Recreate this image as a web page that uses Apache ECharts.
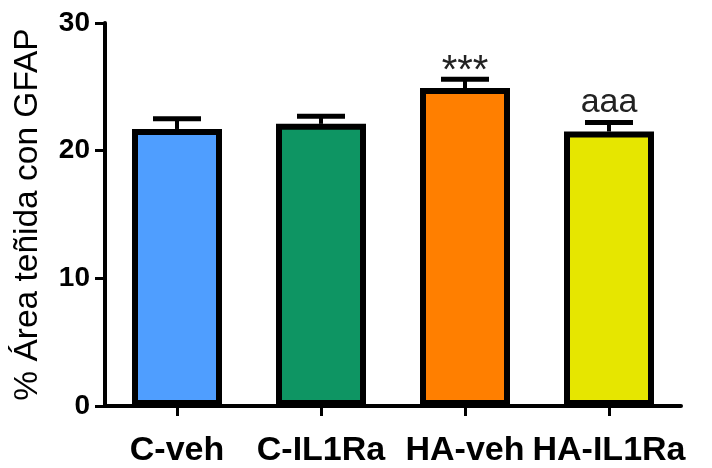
<!DOCTYPE html>
<html>
<head>
<meta charset="utf-8">
<script src="https://cdn.jsdelivr.net/npm/echarts@6/dist/echarts.min.js"></script>
<style>
  html, body { margin: 0; padding: 0; background: #ffffff; }
  #chart { width: 712px; height: 468px; }
</style>
</head>
<body>
<div id="chart"></div>
<script>
const categories = ['C-veh', 'C-IL1Ra', 'HA-veh', 'HA-IL1Ra'];
const means = [21.7, 22.1, 24.9, 21.5];
const errors = [0.8, 0.6, 0.7, 0.7];
const barColors = ['#4F9EFF', '#0E9563', '#FF7F00', '#E6E600'];
const annotations = ['', '', '***', 'aaa'];
const yTicks = { min: 0, max: 30, interval: 10 };
const yTitle = '% Área teñida con GFAP';

const FONT = '"Liberation Sans", Arial, Helvetica, sans-serif';

const chart = echarts.init(document.getElementById('chart'), null, { renderer: 'canvas' });

const barData = means.map((v, i) => ({ value: v, itemStyle: { color: barColors[i] } }));
const errData = means.map((v, i) => [i, v, v + errors[i], annotations[i]]);

chart.setOption({
  animation: false,
  backgroundColor: '#ffffff',
  grid: { left: 105, right: 31, top: 23, bottom: 61, containLabel: false },
  xAxis: {
    type: 'category',
    data: categories,
    boundaryGap: true,
    axisLine: { show: true, lineStyle: { color: '#000', width: 4 } },
    axisTick: { show: true, alignWithLabel: true, length: 10, lineStyle: { color: '#000', width: 3 } },
    axisLabel: { interval: 0, hideOverlap: false, color: '#000', fontFamily: FONT, fontWeight: 'bold', fontSize: 34, margin: 28 },
    splitLine: { show: false }
  },
  yAxis: {
    type: 'value',
    min: yTicks.min,
    max: yTicks.max,
    interval: yTicks.interval,
    name: yTitle,
    nameLocation: 'middle',
    nameRotate: 90,
    nameGap: 60,
    nameTextStyle: { color: '#000', fontFamily: FONT, fontSize: 33.5, fontWeight: 'normal' },
    axisLine: { show: true, lineStyle: { color: '#000', width: 4 } },
    axisTick: { show: true, length: 10, lineStyle: { color: '#000', width: 3 } },
    axisLabel: { color: '#000', fontFamily: FONT, fontWeight: 'bold', fontSize: 28, margin: 15 },
    splitLine: { show: false }
  },
  series: [
    {
      type: 'bar',
      data: barData,
      barWidth: 90,
      itemStyle: { borderColor: '#000', borderWidth: 6 }
    },
    {
      type: 'custom',
      data: errData,
      z: 3,
      renderItem: function (params, api) {
        const idx = api.value(0);
        const base = api.coord([idx, api.value(1)]);
        const top = api.coord([idx, api.value(2)]);
        const half = 24;
        const children = [
          { type: 'line', shape: { x1: base[0], y1: base[1], x2: top[0], y2: top[1] }, style: { stroke: '#000', lineWidth: 4 } },
          { type: 'line', shape: { x1: top[0] - half, y1: top[1], x2: top[0] + half, y2: top[1] }, style: { stroke: '#000', lineWidth: 5 } }
        ];
        const label = errData[params.dataIndex][3];
        if (label) {
          const isStar = label.indexOf('*') >= 0;
          children.push({
            type: 'text',
            style: {
              text: label,
              x: top[0],
              y: top[1] - (isStar ? -13 : 3),
              align: 'center',
              verticalAlign: 'bottom',
              fontFamily: FONT,
              fontSize: isStar ? 40 : 34,
              fill: '#222'
            }
          });
        }
        return { type: 'group', children: children };
      }
    }
  ]
});
</script>
</body>
</html>
